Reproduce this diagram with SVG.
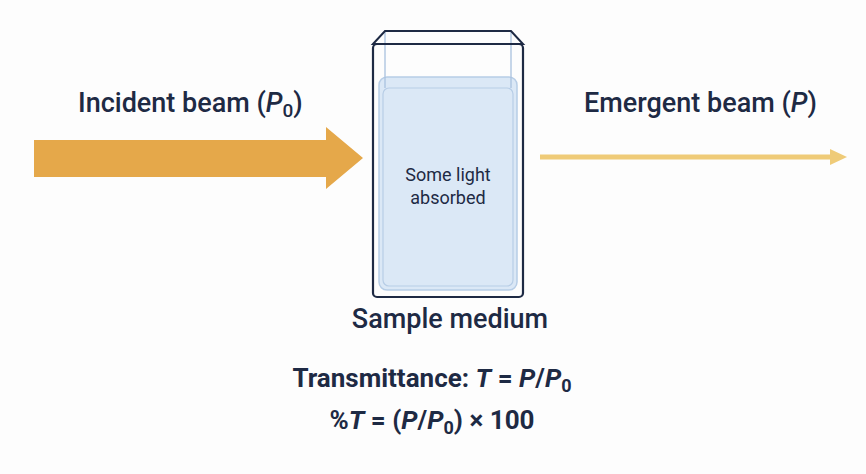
<svg xmlns="http://www.w3.org/2000/svg" width="866" height="474" viewBox="0 0 866 474">
<style>
text{font-family:Roboto,"Liberation Sans",Arial,sans-serif;fill:#1e2a44}
.lbl{font-size:27px;font-weight:500}
.eq{font-size:26px;font-weight:bold}
</style>
<rect width="866" height="474" fill="#fdfdfd"/>
<g id="connectors">
<polygon id="incident" points="34,140 326,140 326,127 363,158 326,189 326,177 34,177" fill="#e5a84a"/>
<line x1="540" y1="157" x2="832" y2="157" stroke="#efcb78" stroke-width="5"/>
<polygon points="830,149 847,157 830,165" fill="#efcb78"/>
</g>
<g id="incident-label"><text class="lbl" x="78" y="112">Incident beam (<tspan font-style="italic">P</tspan><tspan font-size="19" dy="5">0</tspan><tspan dy="-5">)</tspan></text></g>
<g id="emergent-label"><text class="lbl" x="584" y="112">Emergent beam (<tspan font-style="italic">P</tspan>)</text></g>
<g id="cuvette">
<rect x="379" y="77" width="138" height="213" rx="8" fill="#dbe8f6" stroke="#b7cde6" stroke-width="1.5"/>
<rect x="383" y="88" width="130" height="198" rx="6" fill="none" stroke="#b7cde6" stroke-width="1.2"/>
<line x1="385" y1="31" x2="385" y2="88" stroke="#a9c2df" stroke-width="1.3"/>
<line x1="511" y1="31" x2="511" y2="88" stroke="#a9c2df" stroke-width="1.3"/>
<path d="M373,44 L385,31 L511,31 L523,44 Z" fill="none" stroke="#1e2a44" stroke-width="2"/>
<rect x="373" y="44" width="150" height="253" rx="4" fill="none" stroke="#1e2a44" stroke-width="2.2"/>
<text x="448" y="181" font-size="18" text-anchor="middle">Some light</text>
<text x="448" y="204" font-size="18" text-anchor="middle">absorbed</text>
</g>
<g id="sample-label"><text class="lbl" x="450" y="328" font-size="25" text-anchor="middle">Sample medium</text></g>
<g id="equations">
<text class="eq" x="432" y="387" text-anchor="middle">Transmittance: <tspan font-style="italic">T</tspan> = <tspan font-style="italic">P</tspan>/<tspan font-style="italic">P</tspan><tspan font-size="18" dy="5">0</tspan></text>
<text class="eq" x="432" y="429" text-anchor="middle">%<tspan font-style="italic">T</tspan> = (<tspan font-style="italic">P</tspan>/<tspan font-style="italic">P</tspan><tspan font-size="18" dy="5">0</tspan><tspan dy="-5">) × 100</tspan></text>
</g>
</svg>
